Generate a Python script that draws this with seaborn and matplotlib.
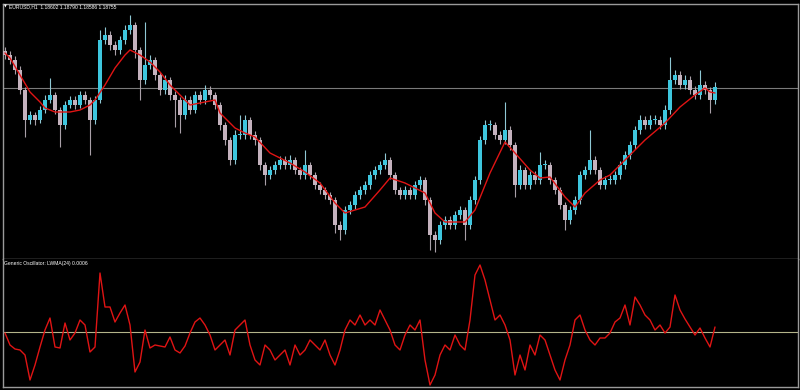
import numpy as np
import pandas as pd
import matplotlib
matplotlib.use("Agg")
import matplotlib.pyplot as plt
import seaborn as sns

# ---------------- data ----------------
symbol_title = "EURUSD,H1  1.18602 1.18790 1.18586 1.18755"
osc_title = "Generic Oscillator: LWMA(24) 0.0006"
base_price = 1.1700          # prices below are pips above this base
pip = 0.0001
last_close = 1.18755

opens_pips = [212, 208, 203, 193, 173, 143, 148, 143, 153, 163,
              168, 153, 138, 158, 163, 158, 168, 163, 143, 163,
              223, 228, 218, 213, 223, 233, 238, 213, 183, 198,
              203, 188, 173, 183, 168, 163, 148, 163, 153, 168,
              163, 173, 168, 158, 138, 123, 103, 128, 128, 143,
              128, 123, 98, 88, 93, 98, 103, 98, 103, 93,
              88, 98, 88, 78, 73, 68, 63, 38, 33, 53,
              58, 68, 73, 78, 88, 93, 98, 103, 88, 73,
              68, 73, 68, 78, 83, 63, 28, 23, 38, 43,
              38, 48, 53, 38, 63, 83, 123, 138, 138, 128,
              123, 133, 118, 78, 93, 78, 88, 83, 98, 98,
              83, 73, 58, 43, 53, 63, 88, 93, 103, 93,
              78, 83, 83, 88, 98, 108, 118, 133, 143, 138,
              143, 143, 138, 153, 183, 188, 178, 183, 173, 168,
              178, 173, 163]
highs_pips = [216, 212, 207, 197, 176, 152, 151, 157, 168, 185,
              171, 156, 162, 167, 167, 172, 172, 166, 167, 233,
              236, 232, 222, 227, 238, 248, 241, 216, 241, 208,
              206, 191, 188, 186, 172, 166, 168, 167, 172, 172,
              178, 177, 171, 161, 141, 126, 133, 148, 148, 146,
              132, 126, 101, 97, 102, 107, 107, 108, 106, 96,
              113, 101, 91, 81, 76, 71, 66, 42, 57, 62,
              72, 77, 82, 92, 97, 102, 110, 106, 91, 76,
              77, 76, 82, 87, 86, 66, 32, 42, 47, 47,
              52, 57, 56, 67, 87, 127, 143, 143, 141, 132,
              161, 137, 121, 98, 96, 92, 92, 111, 103, 101,
              86, 76, 61, 57, 67, 92, 97, 133, 107, 96,
              87, 88, 92, 102, 112, 122, 137, 148, 147, 148,
              148, 147, 158, 206, 193, 192, 188, 187, 177, 193,
              182, 176, 181]
lows_pips = [204, 199, 189, 169, 126, 139, 138, 140, 150, 160,
             149, 116, 134, 155, 154, 155, 159, 108, 139, 160,
             219, 213, 208, 209, 219, 229, 205, 163, 179, 194,
             183, 168, 169, 163, 136, 130, 144, 149, 150, 159,
             159, 164, 154, 133, 118, 98, 99, 124, 124, 124,
             118, 93, 78, 84, 89, 94, 94, 94, 89, 84,
             84, 84, 74, 69, 64, 59, 30, 23, 29, 49,
             54, 64, 69, 74, 84, 89, 94, 84, 69, 64,
             64, 64, 64, 74, 58, 13, 11, 19, 34, 34,
             34, 44, 23, 34, 59, 79, 119, 133, 124, 119,
             119, 113, 66, 74, 74, 74, 79, 79, 94, 79,
             69, 54, 33, 39, 49, 59, 84, 89, 89, 74,
             74, 79, 79, 84, 94, 104, 114, 129, 134, 134,
             139, 134, 134, 149, 179, 174, 174, 169, 164, 164,
             169, 150, 159]
closes_pips = [208, 203, 193, 173, 143, 148, 143, 153, 163, 168,
               153, 138, 158, 163, 158, 168, 163, 143, 163, 223,
               228, 218, 213, 223, 233, 238, 213, 183, 198, 203,
               188, 173, 183, 168, 163, 148, 163, 153, 168, 163,
               173, 168, 158, 138, 123, 103, 128, 128, 143, 128,
               123, 98, 88, 93, 98, 103, 98, 103, 93, 88,
               98, 88, 78, 73, 68, 63, 38, 33, 53, 58,
               68, 73, 78, 88, 93, 98, 103, 88, 73, 68,
               73, 68, 78, 83, 63, 28, 23, 38, 43, 38,
               48, 53, 38, 63, 83, 123, 138, 138, 128, 123,
               133, 118, 78, 93, 78, 88, 83, 98, 98, 83,
               73, 58, 43, 53, 63, 88, 93, 103, 93, 78,
               83, 83, 88, 98, 108, 118, 133, 143, 138, 143,
               143, 138, 153, 183, 188, 178, 183, 173, 168, 178,
               173, 163, 176]

ma_bar = [0, 1, 3, 5, 7, 8, 10, 13, 15, 17,
          18, 20, 22, 24, 25, 27, 29, 31, 33, 35,
          37, 40, 42, 43, 46, 48, 50, 53, 57, 60,
          63, 66, 68, 72, 75, 77, 80, 82, 84, 86,
          88, 92, 94, 97, 100, 102, 105, 107, 109, 112,
          114, 116, 119, 121, 124, 128, 132, 135, 138, 140,
          141, 142]
ma_pips = [210, 205, 188, 171, 161, 155, 151, 151, 153, 158,
           163, 178, 195, 208, 213, 208, 201, 191, 178, 168,
           158, 161, 163, 150, 135, 130, 126, 110, 100, 91,
           80, 60, 50, 56, 73, 85, 80, 75, 70, 50,
           41, 41, 53, 90, 121, 110, 93, 85, 86, 66,
           56, 70, 83, 88, 103, 123, 140, 156, 168, 175,
           171, 170]

osc_pips = [-1, -13, -17, -18, -23, -48, -33, -15, 2, 14,
            -15, -16, 9, -8, -1, 12, 7, -20, -15, 59,
            25, 25, 10, 19, 27, 7, -40, -30, 2, -16,
            -13, -14, -15, -5, -18, -21, -14, -1, 10, 14,
            7, -3, -18, -13, -8, -23, 2, 7, 12, -13,
            -28, -33, -13, -18, -28, -23, -18, -33, -13, -23,
            -18, -8, -13, -18, -8, -23, -33, -18, 2, 12,
            7, 17, 7, 12, 7, 22, 12, 2, -13, -18,
            -3, 7, 2, 12, -28, -53, -43, -23, -13, -18,
            -3, -13, -18, 12, 57, 67, 52, 32, 12, 17,
            7, -8, -43, -23, -38, -13, -23, -3, -8, -23,
            -38, -48, -28, -13, 12, 17, 2, -8, -13, -6,
            -6, -1, 10, 14, 27, 7, 35, 27, 17, 12,
            2, 7, -1, 5, 37, 22, 13, 5, -3, 4,
            -6, -15, 5]

# ---------------- build frames ----------------
n = len(closes_pips)
bars = pd.DataFrame({
    "bar": np.arange(n),
    "open": base_price + np.array(opens_pips) * pip,
    "high": base_price + np.array(highs_pips) * pip,
    "low": base_price + np.array(lows_pips) * pip,
    "close": base_price + np.array(closes_pips) * pip,
    "osc": np.array(osc_pips) * pip,
})
ma = pd.DataFrame({"bar": ma_bar, "ma": base_price + np.array(ma_pips) * pip})

# ---------------- style ----------------
BG = "#000000"
GRID = "#9a9a9a"
UP = "#3ec6de"
DOWN = "#c4b2be"
RED = "#e01414"

sns.set_theme(style="dark", rc={
    "axes.facecolor": BG, "figure.facecolor": BG,
    "axes.edgecolor": GRID, "axes.grid": False,
})
plt.rcParams["font.family"] = ["Liberation Sans Narrow", "Liberation Sans", "DejaVu Sans"]

W, H = 800, 390
fig = plt.figure(figsize=(W / 100, H / 100), dpi=100)
left_px, right_px = 2.5, 797.5
ax = fig.add_axes([left_px / W, 1 - 258.5 / H, (right_px - left_px) / W, (258.5 - 3.5) / H])
ax2 = fig.add_axes([left_px / W, 1 - 386.5 / H, (right_px - left_px) / W, (386.5 - 258.5) / H])

xlim = (-0.5, 158.5)
for a in (ax, ax2):
    a.set_facecolor(BG)
    a.set_xlim(*xlim)
    a.set_xticks([])
    a.set_yticks([])
    for s in a.spines.values():
        s.set_color(GRID)
        s.set_linewidth(1.0)
ax2.spines["top"].set_visible(False)

# ---------------- candles ----------------
up = bars["close"] >= bars["open"]
colors = np.where(up, UP, DOWN)
ax.vlines(bars["bar"], bars["low"], bars["high"], colors=np.where(up, "#8fc8d4", "#a9a0a8"),
          linewidth=0.8, zorder=2)
body_lo = np.minimum(bars["open"], bars["close"])
body_h = np.maximum(np.abs(bars["close"] - bars["open"]), 0.6 * pip)
ax.bar(bars["bar"], body_h, bottom=body_lo, width=0.66, color=colors, linewidth=0,
       antialiased=False, zorder=3)

# moving average
sns.lineplot(data=ma, x="bar", y="ma", ax=ax, color=RED, linewidth=1.0, zorder=4, legend=False)

# price line
ax.axhline(last_close, color="#7a7a7a", linewidth=0.8, zorder=1)
ax.set_ylim(base_price + 4.5 * pip, base_price + 259.5 * pip)
ax.set_xlabel("")
ax.set_ylabel("")

# ---------------- oscillator ----------------
ax2.axhline(0, color="#b4b48a", linewidth=0.8, zorder=1)
sns.lineplot(data=bars, x="bar", y="osc", ax=ax2, color=RED, linewidth=1.0, zorder=3, legend=False)
ax2.set_ylim(-54.5 * pip, 73.5 * pip)
ax2.set_xlabel("")
ax2.set_ylabel("")

# ---------------- labels ----------------
fig.text(4 / W, 1 - 7 / H, "\u25BC", color="white", fontsize=2.6, va="center", ha="left",
         family=["DejaVu Sans"])
fig.text(9 / W, 1 - 7 / H, symbol_title, color="white", fontsize=3.6, va="center", ha="left")
fig.text(4 / W, 1 - 264 / H, osc_title, color="white", fontsize=3.6, va="center", ha="left")

fig.savefig("out.png", dpi=100, facecolor=BG)
